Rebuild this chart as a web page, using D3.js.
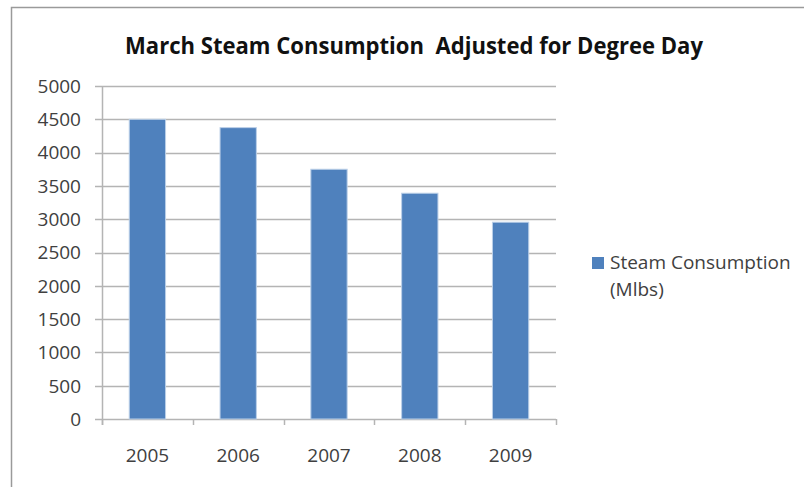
<!DOCTYPE html>
<html>
<head>
<meta charset="utf-8">
<script src="https://cdn.jsdelivr.net/npm/d3@7"></script>
<style>
  body { margin: 0; background: #fff; }
  svg { display: block; }
</style>
</head>
<body>
<div id="chart"></div>
<script>
// chart data
var years = ['2005', '2006', '2007', '2008', '2009'];
var steam = [4500, 4375, 3750, 3390, 2955];
var yTicks = [0, 500, 1000, 1500, 2000, 2500, 3000, 3500, 4000, 4500, 5000];
var seriesName = ['Steam Consumption', '(Mlbs)'];
var title = 'March Steam Consumption  Adjusted for Degree Day';

var width = 804, height = 487;
var plot = { left: 102, right: 556, top: 86, bottom: 419 };
var font = '"Open Sans", "Noto Sans", sans-serif';

var svg = d3.select('#chart').append('svg')
  .attr('width', width)
  .attr('height', height);

// outer frame (only top and left edges are inside the picture)
svg.append('path')
  .attr('d', 'M11.5,' + height + 'V7.5H' + width)
  .attr('fill', 'none')
  .attr('stroke', '#9a9a9a')
  .attr('stroke-width', 1.5);

svg.append('text')
  .attr('x', 414)
  .attr('y', 54)
  .attr('text-anchor', 'middle')
  .attr('font-family', font)
  .attr('font-weight', 'bold')
  .attr('font-size', '23px')
  .attr('fill', '#111')
  .attr('textLength', 578)
  .attr('lengthAdjust', 'spacingAndGlyphs')
  .style('white-space', 'pre')
  .text(title);

var x = d3.scaleBand()
  .domain(years)
  .range([plot.left, plot.right])
  .paddingInner(0.6)
  .paddingOuter(0.3);

var y = d3.scaleLinear()
  .domain([0, 5000])
  .range([plot.bottom, plot.top]);

// gridlines + y ticks
svg.append('g')
  .selectAll('line')
  .data(yTicks)
  .enter()
  .append('line')
  .attr('x1', plot.left - 7)
  .attr('x2', plot.right)
  .attr('y1', function(d){ return Math.round(y(d)) + 0.5; })
  .attr('y2', function(d){ return Math.round(y(d)) + 0.5; })
  .attr('stroke', '#b4b4b4')
  .attr('stroke-width', 1.5);

// y axis line
svg.append('line')
  .attr('x1', plot.left + 0.5).attr('x2', plot.left + 0.5)
  .attr('y1', plot.top).attr('y2', plot.bottom + 6)
  .attr('stroke', '#b4b4b4')
  .attr('stroke-width', 1.5);

// x ticks at category boundaries
var bounds = d3.range(years.length + 1).map(function(i){ return plot.left + i * (plot.right - plot.left) / years.length; });
svg.append('g')
  .selectAll('line')
  .data(bounds)
  .enter()
  .append('line')
  .attr('x1', function(d){ return Math.round(d) + 0.5; })
  .attr('x2', function(d){ return Math.round(d) + 0.5; })
  .attr('y1', plot.bottom)
  .attr('y2', plot.bottom + 6)
  .attr('stroke', '#b4b4b4')
  .attr('stroke-width', 1.5);

svg.append('g')
  .selectAll('text')
  .data(yTicks)
  .enter()
  .append('text')
  .attr('x', 81)
  .attr('y', function(d){ return y(d); })
  .attr('dy', '0.36em')
  .attr('text-anchor', 'end')
  .attr('font-family', font)
  .attr('font-size', '19px')
  .attr('fill', '#404040')
  .text(function(d){ return d; });

// bars
svg.append('g')
  .selectAll('rect')
  .data(steam)
  .enter()
  .append('rect')
  .attr('x', function(d, i){ return x(years[i]); })
  .attr('y', function(d){ return y(d); })
  .attr('width', x.bandwidth())
  .attr('height', function(d){ return plot.bottom - y(d); })
  .attr('fill', '#4f81bd')
  .attr('stroke', '#bcd0e8')
  .attr('stroke-width', 1);

svg.append('g')
  .selectAll('text')
  .data(years)
  .enter()
  .append('text')
  .attr('x', function(d){ return x(d) + x.bandwidth() / 2; })
  .attr('y', 462)
  .attr('text-anchor', 'middle')
  .attr('font-family', font)
  .attr('font-size', '19px')
  .attr('fill', '#404040')
  .text(function(d){ return d; });

// legend
var legend = svg.append('g');
legend.append('rect')
  .attr('x', 592).attr('y', 257)
  .attr('width', 12).attr('height', 12)
  .attr('fill', '#4f81bd');
legend.selectAll('text')
  .data(seriesName)
  .enter()
  .append('text')
  .attr('x', 610)
  .attr('y', function(d, i){ return 269 + i * 27; })
  .attr('font-family', font)
  .attr('font-size', '19px')
  .attr('fill', '#404040')
  .text(function(d){ return d; });
</script>
</body>
</html>
